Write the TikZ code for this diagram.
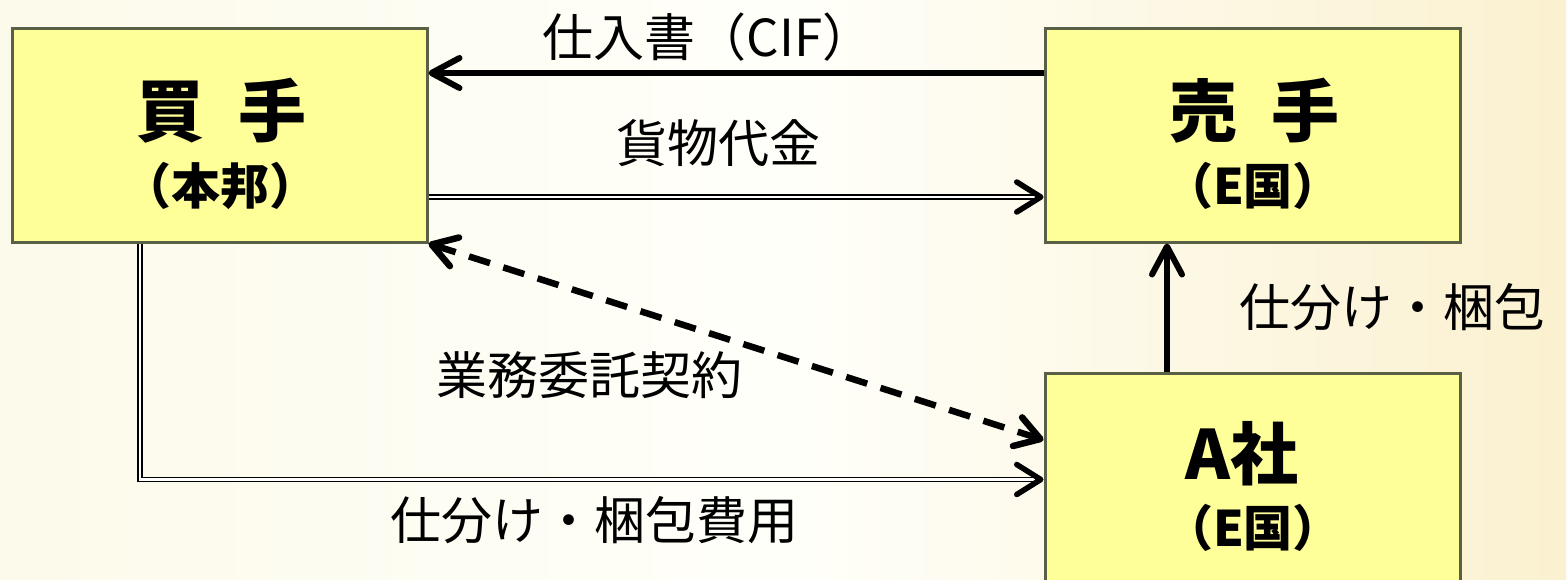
\documentclass[tikz,border=0pt]{standalone}
\usepackage{fontspec}
\setmainfont{Noto Sans CJK JP}
\usetikzlibrary{arrows.meta,calc}
\definecolor{boxfill}{HTML}{FFFF99}
\definecolor{boxline}{HTML}{5A6045}
\definecolor{bgL}{HTML}{FCFAEA}
\definecolor{bgM}{HTML}{FFFFFA}
\definecolor{bgR}{HTML}{FBF1D0}
\begin{document}
\begin{tikzpicture}[x=1pt,y=-1pt,
  box/.style={draw=boxline,line width=3pt,fill=boxfill,minimum width=415pt,minimum height=213pt,inner sep=0pt},
  ttl/.style={font=\fontsize{68}{72}\selectfont\bfseries,inner sep=0pt},
  sub/.style={font=\fontsize{49}{52}\selectfont\bfseries,inner sep=0pt},
  lbl/.style={font=\fontsize{51}{56}\selectfont,inner sep=0pt},
  barb/.style={Straight Barb[length=28pt,width=30pt,line cap=round,line join=round]},
  thick arrow/.style={line width=6pt,-{Straight Barb[length=28pt,width=30pt,line cap=round,line join=round]}},
  dashed arrow/.style={line width=6.5pt,dash pattern=on 22pt off 14pt,{Straight Barb[length=24pt,width=30pt,line cap=round,line join=round]}-{Straight Barb[length=24pt,width=30pt,line cap=round,line join=round]}},
  dbl/.style={line width=1.7pt,double=white,double distance=2.2pt},
  dbltip/.style={line width=5.5pt,-{Straight Barb[length=24pt,width=30pt,line cap=round,line join=round]}}
]
\shade[left color=bgL,right color=bgR,middle color=bgM] (0,0) rectangle (1566,580);
\useasboundingbox (0,0) rectangle (1566,580);
\clip (0,0) rectangle (1566,580);

% boxes
\node[box] (buyer) at (219.5,135.5) {};
\node[box] (seller) at (1252.5,135.5) {};
\node[box] (A) at (1252.5,479.5) {};

\node[ttl] (buyerT) at (221,111) {買\hspace{0.5em}手};
\node[sub] (buyerS) at (220,186) {（本邦）};
\node[ttl] (sellerT) at (1254,111) {売\hspace{0.5em}手};
\node[sub] (sellerS) at (1253,186) {（E国）};
\node[ttl] (AT) at (1242,454) {A社};
\node[sub] (AS) at (1253,528) {（E国）};

% connectors
\draw[thick arrow] ($(seller.west)+(0,-62.5)$) -- ($(buyer.east)+(0,-62.5)$);
\node[lbl] (l1) at (708,37) {仕入書（CIF）};

\draw[dbl,shorten >=4pt] ($(buyer.east)+(0,61.5)$) -- ($(seller.west)+(0,61.5)$);
\draw[dbltip] ($(seller.west)+(-3,61.5)$) -- ($(seller.west)+(0,61.5)$);
\node[lbl] (l2) at (718,143) {貨物代金};

\draw[dashed arrow] (buyer.south east) -- ($(A.west)+(0,-39.5)$);
\node[lbl] (l3) at (589,375) {業務委託契約};

\draw[dbl,shorten >=4pt] ($(buyer.south)+(-79.5,0)$) |- (A.west);
\draw[dbltip] ($(A.west)+(-3,0)$) -- (A.west);
\node[lbl] (l4) at (594,520) {仕分け・梱包費用};

\draw[thick arrow] ($(A.north)+(-85.5,0)$) -- ($(seller.south)+(-85.5,0)$);
\node[lbl] (l5) at (1392,307) {仕分け・梱包};
\end{tikzpicture}
\end{document}
